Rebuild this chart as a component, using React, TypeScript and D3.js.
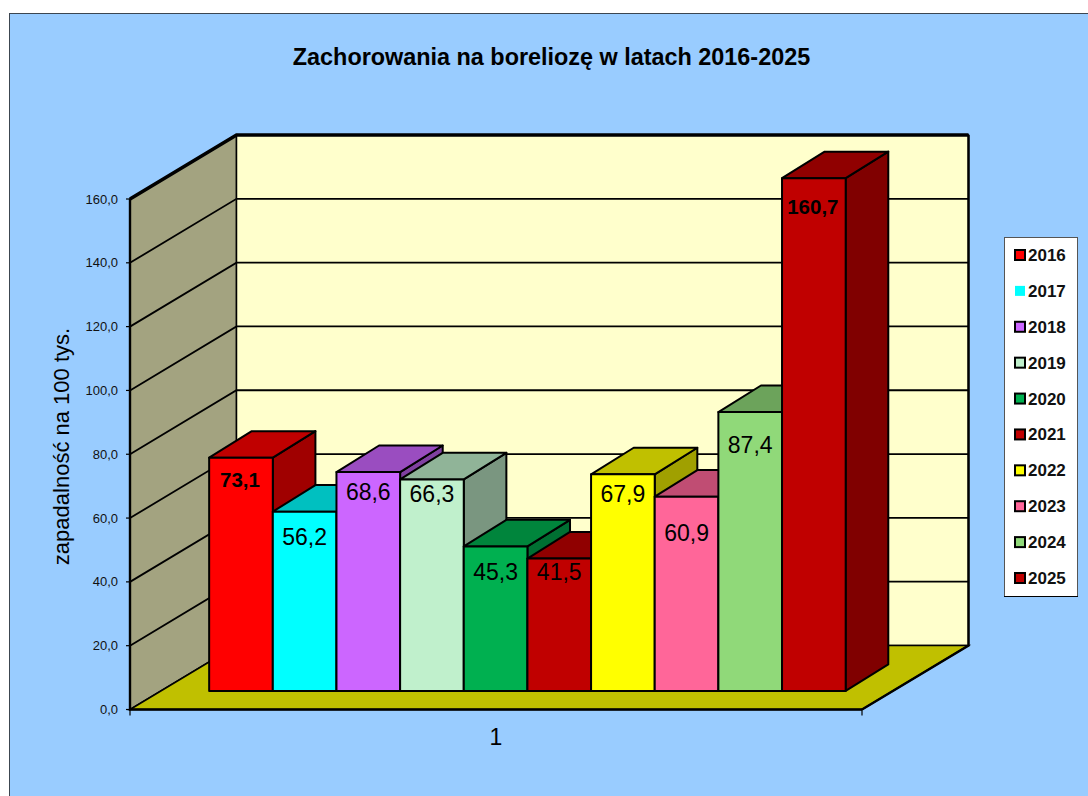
import React from "react";
import * as d3 from "d3";

// zachorowania na borelioze, zapadalnosc na 100 tys.
const years = ["2016", "2017", "2018", "2019", "2020", "2021", "2022", "2023", "2024", "2025"];
const values = [73.1, 56.2, 68.6, 66.3, 45.3, 41.5, 67.9, 60.9, 87.4, 160.7];
const yTicks = [0, 20, 40, 60, 80, 100, 120, 140, 160];
const frontColors = ["#ff0000", "#00ffff", "#cc66ff", "#c0f0cc", "#00b050", "#c00000", "#ffff00", "#ff6699", "#90d979", "#c00000"];
const topColors = ["#c00000", "#00c0c0", "#9a4dc0", "#90b498", "#00853c", "#900000", "#c0c000", "#c04d73", "#6ca35b", "#900000"];
const sideColors = ["#a00000", "#00a0a0", "#8040a0", "#7a9680", "#006f32", "#800000", "#a0a000", "#a04060", "#5a884c", "#800000"];
const boldYears = ["2016", "2025"];
// labels were moved by hand in the original, so they sit at uneven distances under the bar top
const labelDrops = [22, 26, 20, 15, 26, 14, 20, 37, 33, 28];

const font = "'Liberation Sans', Arial, sans-serif";
const W = 1088;
const H = 796;

// front plane of the 3d box
const x0 = 130;
const x1 = 862;
const y = d3.scaleLinear().domain([0, 160]).range([709.5, 199]);
const x = d3.scaleBand().domain(years).range([x0, x1]).paddingInner(0).paddingOuter(0.75);

// depth of the box and of the bars
const depthX = 106.5;
const depthY = -64;
const barDepthX = 0.4;
const barDepthY = 0.415;
const barShiftX = 0.295;
const barShiftY = 0.29;

const poly = d3.line().curve(d3.curveLinearClosed);
const barLeft = (year: string) => (x(year) as number) + barShiftX * depthX;

function Bar({ i }: { i: number }) {
  const year = years[i];
  const left = barLeft(year);
  const right = left + x.bandwidth();
  const base = y(0) + barShiftY * depthY;
  const top = base - (y(0) - y(values[i]));
  const dx = barDepthX * depthX;
  const dy = barDepthY * depthY;
  const stroke = { stroke: "#000", strokeWidth: 2, strokeLinejoin: "round" as const };
  return (
    <g>
      <path
        d={poly([[right, top], [right + dx, top + dy], [right + dx, base + dy], [right, base]]) as string}
        fill={sideColors[i]}
        {...stroke}
      />
      <path
        d={poly([[left, top], [left + dx, top + dy], [right + dx, top + dy], [right, top]]) as string}
        fill={topColors[i]}
        {...stroke}
      />
      <path
        d={poly([[left, top], [right, top], [right, base], [left, base]]) as string}
        fill={frontColors[i]}
        {...stroke}
      />
    </g>
  );
}

export default function App() {
  const wallTop = y(160) + depthY;
  const backFloor = y(0) + depthY;
  const backLeft = x0 + depthX;
  const backRight = x1 + depthX;
  const legendY = d3.scalePoint().domain(years).range([255, 578]);

  return (
    <svg width={W} height={H} style={{ position: "absolute", left: 0, top: 0 }} fontFamily={font}>
      <rect x={9.5} y={13.5} width={W} height={H} fill="#99ccff" stroke="#3c4650" strokeWidth={1} />

      <text x={551.5} y={65} textAnchor="middle" fontSize={23.4} fontWeight="bold">
        Zachorowania na boreliozę w latach 2016-2025
      </text>

      {/* walls and floor */}
      <path
        d={poly([[x0, y(0)], [backLeft, backFloor], [backLeft, wallTop], [x0, y(160)]]) as string}
        fill="#a3a380"
        stroke="#000"
        strokeWidth={1.5}
      />
      <rect x={backLeft} y={wallTop} width={backRight - backLeft} height={backFloor - wallTop} fill="#ffffcc" stroke="#000" strokeWidth={1.5} />
      <path
        d={poly([[x0, y(0)], [x1, y(0)], [backRight, backFloor], [backLeft, backFloor]]) as string}
        fill="#c0c000"
        stroke="#000"
        strokeWidth={1.5}
      />

      {/* grid */}
      {yTicks.slice(1).map((t) => (
        <path
          key={t}
          d={`M${x0},${y(t)}L${backLeft},${y(t) + depthY}L${backRight},${y(t) + depthY}`}
          fill="none"
          stroke="#000"
          strokeWidth={1.8}
        />
      ))}

      {/* heavy edges */}
      <path
        d={`M${x0},${y(160)}L${backLeft},${wallTop}L${backRight},${wallTop}`}
        fill="none"
        stroke="#000"
        strokeWidth={3.6}
      />
      <path d={`M${backRight},${wallTop}L${backRight},${backFloor}L${x1},${y(0)}`} fill="none" stroke="#000" strokeWidth={2.4} />
      <path d={`M${x0},${y(160)}L${x0},${y(0)}L${x1},${y(0)}`} fill="none" stroke="#000" strokeWidth={2.4} />

      {/* axis */}
      {yTicks.map((t) => (
        <g key={t}>
          <line x1={x0 - 4} x2={x0} y1={y(t)} y2={y(t)} stroke="#000" strokeWidth={1.2} />
          <text x={118} y={y(t) + 4.5} textAnchor="end" fontSize={13} fill="#111">
            {d3.format(".1f")(t).replace(".", ",")}
          </text>
        </g>
      ))}
      {[x0, x1].map((v) => (
        <line key={v} x1={v} x2={v} y1={y(0)} y2={y(0) + 6} stroke="#000" strokeWidth={1.2} />
      ))}
      <text x={496} y={745} textAnchor="middle" fontSize={23}>1</text>
      <text transform="translate(69,446.5) rotate(-90)" textAnchor="middle" fontSize={22}>
        zapadalność na 100 tys.
      </text>

      {/* bars, painted left to right */}
      {years.map((year, i) => (
        <Bar key={year} i={i} />
      ))}

      {years.map((year, i) => {
        const bold = boldYears.includes(year);
        return (
          <text
            key={year}
            x={barLeft(year) + x.bandwidth() / 2 - (bold ? 1 : 0)}
            y={y(values[i]) + barShiftY * depthY + labelDrops[i] + 7.5}
            textAnchor="middle"
            fontSize={bold ? 20.5 : 23}
            fontWeight={bold ? "bold" : "normal"}
          >
            {String(values[i].toFixed(1)).replace(".", ",")}
          </text>
        );
      })}

      {/* legend */}
      <rect x={1004.5} y={237.5} width={73} height={359} fill="#fff" stroke="#555" strokeWidth={1} />
      <path d="M1004,596.5H1078" stroke="#000" strokeWidth={1} />
      {years.map((year, i) => {
        const cy = legendY(year) as number;
        return (
          <g key={year}>
            <rect
              x={1015}
              y={cy - 5}
              width={10}
              height={10}
              fill={frontColors[i]}
              stroke={year === "2017" ? "none" : "#000"}
              strokeWidth={2}
            />
            <text x={1028} y={cy + 6} fontSize={17} fontWeight="bold" fill="#111">
              {year}
            </text>
          </g>
        );
      })}
    </svg>
  );
}
